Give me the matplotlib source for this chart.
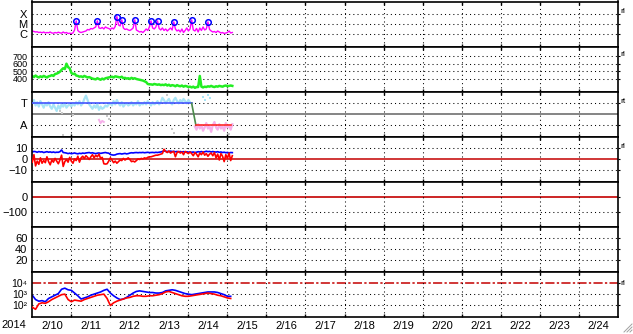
import matplotlib
matplotlib.use("Agg")
import matplotlib.pyplot as plt
import numpy as np
from matplotlib.lines import Line2D
from matplotlib.ticker import NullLocator

plt.rcParams["font.family"] = ["Liberation Sans", "DejaVu Sans"]
plt.rcParams["font.size"] = 8

# --- data, hours since 2014-02-10 00:00 ------------------------------------
HOURS = np.arange(124)
HOURS2 = np.arange(0, 124, 2)
DAY_LABELS = [f"2/{d}" for d in range(10, 25)]

# x-ray flux, decades above C level
XRAY = [0.3, 0.25, 0.2, 0.22, 0.15, 0.18, 0.12, 0.2, 0.1, 0.15,
        0.12, 0.2, 0.1, 0.08, 0.15, 0.1, 0.18, 0.12, 0.08, 0.2,
        0.1, 0.15, 0.05, 0.08, 0.05, 0.1, 0.4, 1.3, 0.35, 0.2,
        0.15, 0.2, 0.25, 0.3, 0.45, 0.4, 0.55, 0.5, 0.6, 0.7,
        1.3, 0.6, 0.55, 0.65, 0.5, 0.7, 0.6, 0.55, 0.45, 0.6,
        0.5, 0.75, 1.73, 0.9, 0.8, 1.4, 0.6, 0.45, 0.5, 0.4,
        0.35, 0.45, 0.6, 1.4, 0.4, 0.3, 0.2, 0.25, 0.15, 0.3,
        0.5, 0.35, 0.7, 1.3, 0.6, 0.5, 0.7, 1.3, 0.55, 0.4,
        0.6, 0.35, 0.5, 0.3, 0.45, 0.6, 0.4, 1.2, 0.5, 0.3,
        0.4, 0.2, 0.5, 0.15, 0.35, 0.6, 0.3, 0.5, 1.4, 0.4,
        0.3, 0.55, 0.2, 0.6, 0.35, 0.7, 0.4, 0.5, 1.2, 0.45,
        0.3, 0.2, 0.25, 0.15, 0.3, 0.2, 0.1, 0.15, 0.05, 0.1,
        0.15, 0.3, 0.1, 0.15]
FLARE_HOURS = [27, 40, 52, 55, 63, 73, 77, 87, 98, 108]

# solar wind speed
SPEED = [440, 425, 445, 430, 420, 435, 425, 440, 430, 420, 435, 440,
         450, 440, 465, 470, 480, 495,
         520, 540, 530, 600, 555, 540,
         480, 465, 470,
         445, 440, 430, 435, 425, 440, 430, 420, 425,
         415, 405, 400, 395, 410, 400, 390, 405, 395, 410,
         415, 420, 425, 430, 420,
         435, 430, 425, 420, 430,
         410, 415, 405, 410, 400, 415, 405, 410, 400, 395,
         390, 385, 380, 370, 360,
         335, 330, 330, 325, 335, 330, 325, 330, 320, 325,
         320, 330, 315, 325, 310, 320, 315, 305, 320, 310, 305, 315, 300, 310, 305,
         295, 300, 290, 300, 285, 295,
         295, 440, 300,
         290, 300, 295, 305, 300, 310, 300, 295, 305, 300, 310, 305, 300, 310,
         315, 305, 310, 315, 310]

# IMF sector angle (T = +1, A = -1)
PHI_T = [1.0, 1.3, 0.8, 1.1, 0.7, 1.2, 0.9, 0.6, 1.0, 0.8, 1.1, 0.7,
         0.5, 0.9, 0.6, 0.3, 0.8, 0.5, 0.9, 0.7, 1.0, 0.6, 0.8, 0.9,
         0.7, 1.0, 0.8, 1.1, 0.9, 1.2, 0.8, 1.0, 1.4, 1.7, 1.3, 0.9,
         0.7, 0.5, 0.8, 0.6, 0.9, 0.4, 0.7, 0.5, 0.6, 0.8, 0.7, 0.9,
         1.0, 0.8, 1.2, 0.9, 1.3, 1.0, 0.8, 1.1, 0.7, 0.9, 1.0, 0.8,
         0.9, 1.1, 0.8, 1.0, 0.9, 1.2, 0.8, 1.0, 0.9, 1.1, 0.9, 1.2,
         1.0, 0.8, 1.1, 0.9, 1.0, 1.2, 0.9, 1.1, 1.5, 1.3, 1.0, 1.2,
         1.4, 1.1, 0.9, 1.3, 1.5, 1.2, 1.0, 1.3, 1.1, 1.4, 1.2, 1.0, 1.3, 1.1]
PHI_A_HOURS = np.arange(100, 124)
PHI_A = [-1.1, -1.4, -0.9, -1.3, -1.0, -1.5, -1.2, -0.8, -1.3, -1.1, -1.6, -1.0,
         -0.7, -1.2, -1.4, -0.9, -1.3, -1.1, -1.5, -0.8, -1.2, -1.0, -1.4, -0.9]
PINK_EARLY_HOURS = [41, 42, 43, 44]
PINK_EARLY = [-0.5, -0.8, -0.6, -0.7]
BLUE_LATE_HOURS = [105, 106, 108, 109]
BLUE_LATE = [1.6, 1.3, 1.8, 1.5]
GREY_HOURS = [17, 18, 25, 46, 47, 19, 86, 87, 83, 121]
GREY_VALS = [0.3, 0.1, -0.1, -0.2, -0.4, -1.9, -1.3, -1.7, 1.8, -1.8]
SECTOR_HOURS = [0, 98, 100.6, 122]
SECTOR_LEVEL = [1, 1, -1, -1]

# IMF Bt / Bz
BT = [6.5, 7.0, 6.8, 6.2, 6.9, 6.5, 6.7, 6.0, 6.4, 6.8, 6.3, 6.6, 6.1, 6.5, 6.0, 6.3, 6.2, 6.8,
      8.4, 6.0,
      5.8, 5.5, 5.0, 5.4, 4.9, 5.2, 5.6, 5.1, 4.8, 5.3, 5.0, 5.5,
      5.2, 5.6, 5.8, 6.0, 5.5, 5.8, 5.3, 5.0, 5.4, 5.6, 5.2, 5.5, 5.8, 6.0, 5.6, 5.4,
      4.2, 3.8, 3.6, 3.8, 4.5,
      4.8, 5.0, 4.6, 4.9, 5.2, 4.7, 5.0, 5.5, 5.8, 5.6, 5.9, 6.0,
      5.8, 6.0, 5.9, 6.1, 5.8, 6.0, 6.2, 5.9, 6.0, 6.1, 5.9, 6.2, 6.0, 6.3, 6.5, 7.0,
      7.5, 7.2, 7.0, 6.8, 7.3, 6.9, 7.1, 6.7, 7.0, 6.6, 6.9, 6.5, 6.8, 6.4, 6.7, 6.3,
      6.6, 6.2, 6.5, 6.0, 6.3, 6.8, 6.5, 6.9, 6.4, 6.7, 7.2, 6.8, 7.0, 6.5, 6.9, 6.6,
      6.4, 6.8, 6.2, 6.5, 6.0, 6.3, 5.8, 6.1, 5.7, 6.0, 5.9]
BZ = [-3.0, 4.0, -6.5, -2.0, -5.0, 1.0, -4.0, -1.5, -3.5, 2.0, -2.5, -5.5, -1.0, -3.0, 0.5,
      -2.0, -4.5, -1.0, 3.5, -7.0, -2.5, -0.5, -3.0, 1.5, -2.0, -4.0, 0.0, -1.5, 2.5, -3.0,
      1.0, 2.5, 0.5, 3.0, 1.5, -0.5, 2.0, 4.0, 1.0, 3.5,
      2.0, 4.5, 0.5, 1.5, -4.5, -4.8, -4.5, -2.0, 1.0,
      -1.0, -3.5, -2.0, -4.0,
      -2.5, -1.0, -1.5, 0.5, -1.0, 0.0, 1.0, -0.5,
      -2.5, -2.0, -2.8, -1.5,
      0.0, -0.5, 0.5, 0.0, 1.0, 0.5,
      1.5, 2.0, 2.0, 2.5, 3.0, 3.5, 3.5, 4.0, 4.5, 5.0,
      9.0,
      7.0, 6.0, 7.5, 5.5, 6.5, 7.0, 2.0, 6.0, 7.0, 5.5, 6.5, 4.0, 7.0, 6.0, 5.0, 6.5,
      5.0, 3.0, 6.0, 4.5, 2.0, 5.5, 4.0, 6.5, 3.5, 5.0, 2.5, 4.5,
      5.5, 3.0, 6.0, 1.0, 4.5, -1.0, 5.0, 2.5, -2.5, 4.0, 0.5, 5.5, -1.5, 3.0]

# particle flux, log10 (2-hourly)
FLUX_BLUE = [2.9, 2.5, 2.35, 2.4, 2.3, 2.6, 2.75, 2.9, 3.05, 3.45,
             3.55, 3.4, 3.35, 3.1, 2.85, 2.55, 2.65, 2.75, 2.9, 3.0,
             3.1, 3.2, 3.35, 3.45, 3.1, 2.85, 2.65, 2.5, 2.55, 2.7,
             2.9, 3.1, 3.25, 3.3, 3.25, 3.2, 3.15, 3.15, 3.1, 3.1,
             3.15, 3.3, 3.35, 3.4, 3.35, 3.25, 3.15, 3.05, 3.0, 2.95,
             3.0, 3.05, 3.1, 3.15, 3.2, 3.2, 3.2, 3.15, 3.05, 2.95,
             2.8, 2.8]
FLUX_RED = [1.8, 1.6, 2.1, 2.2, 2.15, 2.3, 2.5, 2.65, 2.8, 2.95,
            3.0, 2.5, 2.3, 2.45, 2.4, 2.35, 2.5, 2.6, 2.7, 2.8,
            2.9, 2.95, 3.0, 2.6, 1.95, 2.2, 2.35, 2.45, 2.55, 2.65,
            2.7, 2.8, 2.85, 2.85, 2.8, 2.8, 2.85, 2.85, 2.9, 2.95,
            3.05, 3.2, 3.25, 3.15, 3.05, 2.95, 2.85, 2.8, 2.8, 2.85,
            2.9, 2.95, 3.0, 3.05, 3.1, 3.05, 3.0, 2.9, 2.85, 2.75,
            2.65, 2.6]
FLUX_ALERT = 1e4
FLUX_TICKS = [1e2, 1e3, 1e4]
FLUX_LABELS = ["10\u00b2", "10\u00b3", "10\u2074"]

# --- layout -----------------------------------------------------------------
W, H = 633, 334
L, R = 32.3, 617.7
TOP, BOT = 1.5, 316.7
PH = (BOT - TOP) / 7
DOT = (0, (1, 3))
DARKRED = "#c40000"

fig = plt.figure(figsize=(W / 100, H / 100), dpi=100)
fig.patch.set_facecolor("white")

axes = []
for i in range(7):
    top = TOP + i * PH
    ax = fig.add_axes([L / W, 1 - (top + PH) / H, (R - L) / W, PH / H])
    ax.set_xlim(0, 360)
    ax.set_xticks(np.arange(24, 360, 24))
    ax.set_xticks(np.arange(12, 360, 24), minor=True)
    ax.tick_params(axis="x", which="major", direction="in", length=2.2,
                   width=1, top=True, bottom=True, labelbottom=False)
    ax.tick_params(axis="x", which="minor", length=0, pad=3,
                   labelbottom=(i == 6), labelsize=8)
    ax.xaxis.grid(True, which="major", color="black", lw=0.75, ls=DOT, zorder=0)
    ax.tick_params(axis="y", left=False, right=True, direction="out",
                   length=1.5, pad=2, labelsize=8)
    for s in ax.spines.values():
        s.set_linewidth(1.2)
        s.set_color("black")
    axes.append(ax)

axes[6].set_xticklabels(DAY_LABELS, minor=True)


def hgrid(ax, levels):
    for lv in levels:
        ax.axhline(lv, color="black", lw=0.75, ls=DOT, zorder=0)


# panel 1: x-ray
ax = axes[0]
ax.set_ylim(-1.24, 3.22)
ax.set_yticks([0, 1, 2], ["C", "M", "X"])
hgrid(ax, [0, 1, 2])
xr = np.array(XRAY)
ax.plot(HOURS, xr, color="#ff00ff", lw=1, zorder=2)
ax.plot(FLARE_HOURS, xr[FLARE_HOURS], "o", ms=4, mfc="none", mec="#0000ff",
        mew=1.1, zorder=3)

# panel 2: speed (tightly stacked labels, as in the original)
ax = axes[1]
ax.set_ylim(236, 824)
ax.set_yticks([400, 500, 600, 700])
ax.tick_params(axis="y", labelsize=6.5)
hgrid(ax, [400, 500, 600, 700])
ax.plot(HOURS, SPEED, color="#22ee22", lw=1.8, zorder=2)

# panel 3: sector
ax = axes[2]
ax.set_ylim(-2.03, 2.07)
ax.set_yticks([1, -1], ["T", "A"])
hgrid(ax, [1, -1])
ax.axhline(0, color="#707070", lw=1.2, zorder=1)
ax.plot(GREY_HOURS, GREY_VALS, "s", ms=1.5, color="#c8c8c8", mew=0, zorder=1)
ax.plot(HOURS[:98], PHI_T, color="#a8e4f6", lw=1.6, zorder=2)
ax.plot(BLUE_LATE_HOURS, BLUE_LATE, "s", ms=1.8, color="#a8e4f6", mew=0, zorder=2)
ax.plot(PHI_A_HOURS, PHI_A, color="#f6b0ea", lw=1.6, zorder=2)
ax.plot(PINK_EARLY_HOURS, PINK_EARLY, color="#f6b0ea", lw=1.4, zorder=2)
ax.plot(SECTOR_HOURS[0:2], SECTOR_LEVEL[0:2], color="#4455ff", lw=1.2, zorder=3)
ax.plot(SECTOR_HOURS[1:3], SECTOR_LEVEL[1:3], color="#4a8a4a", lw=1.2, zorder=3)
ax.plot(SECTOR_HOURS[2:4], SECTOR_LEVEL[2:4], color="#ff2a2a", lw=1.2, zorder=3)

# panel 4: Bt / Bz
ax = axes[3]
ax.set_ylim(-21.2, 20.9)
ax.set_yticks([10, 0, -10])
hgrid(ax, [10, -10])
ax.axhline(0, color=DARKRED, lw=1.1, zorder=1)
ax.plot(HOURS, BT, color="#0000ff", lw=1.2, zorder=2)
ax.plot(HOURS, BZ, color="#ff0000", lw=1.2, zorder=3)

# panel 5
ax = axes[4]
ax.set_ylim(-204, 108)
ax.set_yticks([0, -100])
hgrid(ax, [-100])
ax.axhline(0, color=DARKRED, lw=1.2, zorder=1)

# panel 6
ax = axes[5]
ax.set_ylim(-1.6, 81.4)
ax.set_yticks([20, 40, 60])
hgrid(ax, [20, 40, 60])

# panel 7: particle flux
ax = axes[6]
ax.set_yscale("log")
ax.set_ylim(10 ** 0.92, 10 ** 5.07)
ax.set_yticks(FLUX_TICKS, FLUX_LABELS)
ax.tick_params(axis="y", labelsize=7.5)
ax.yaxis.set_minor_locator(NullLocator())
hgrid(ax, [1e2, 1e3])
ax.axhline(FLUX_ALERT, color=DARKRED, lw=1.1, ls=(0, (6, 1.5, 1.5, 1.5)), zorder=1)
ax.plot(HOURS2, 10 ** np.array(FLUX_BLUE), color="#0000ff", lw=1.2, zorder=2)
ax.plot(HOURS2, 10 ** np.array(FLUX_RED), color="#ff0000", lw=1.2, zorder=3)

# year label and small right-hand markers
fig.text(1 / W, 1 - 325.5 / H, "2014", ha="left", va="center", fontsize=8)
for y, s in [(11.7, "rl"), (55, "rl"), (101.7, "rt"), (147, "rl"), (283.3, "rl")]:
    fig.text(620 / W, 1 - y / H, s, ha="left", va="center", fontsize=6)

# resize grip
for k in range(3):
    off = 3 * k
    fig.add_artist(Line2D([(624 + off) / W, 632 / W],
                          [1 - 332 / H, 1 - (324 + off) / H],
                          transform=fig.transFigure, color="#a0a0a0", lw=0.7))

fig.savefig("out.png", dpi=100)
